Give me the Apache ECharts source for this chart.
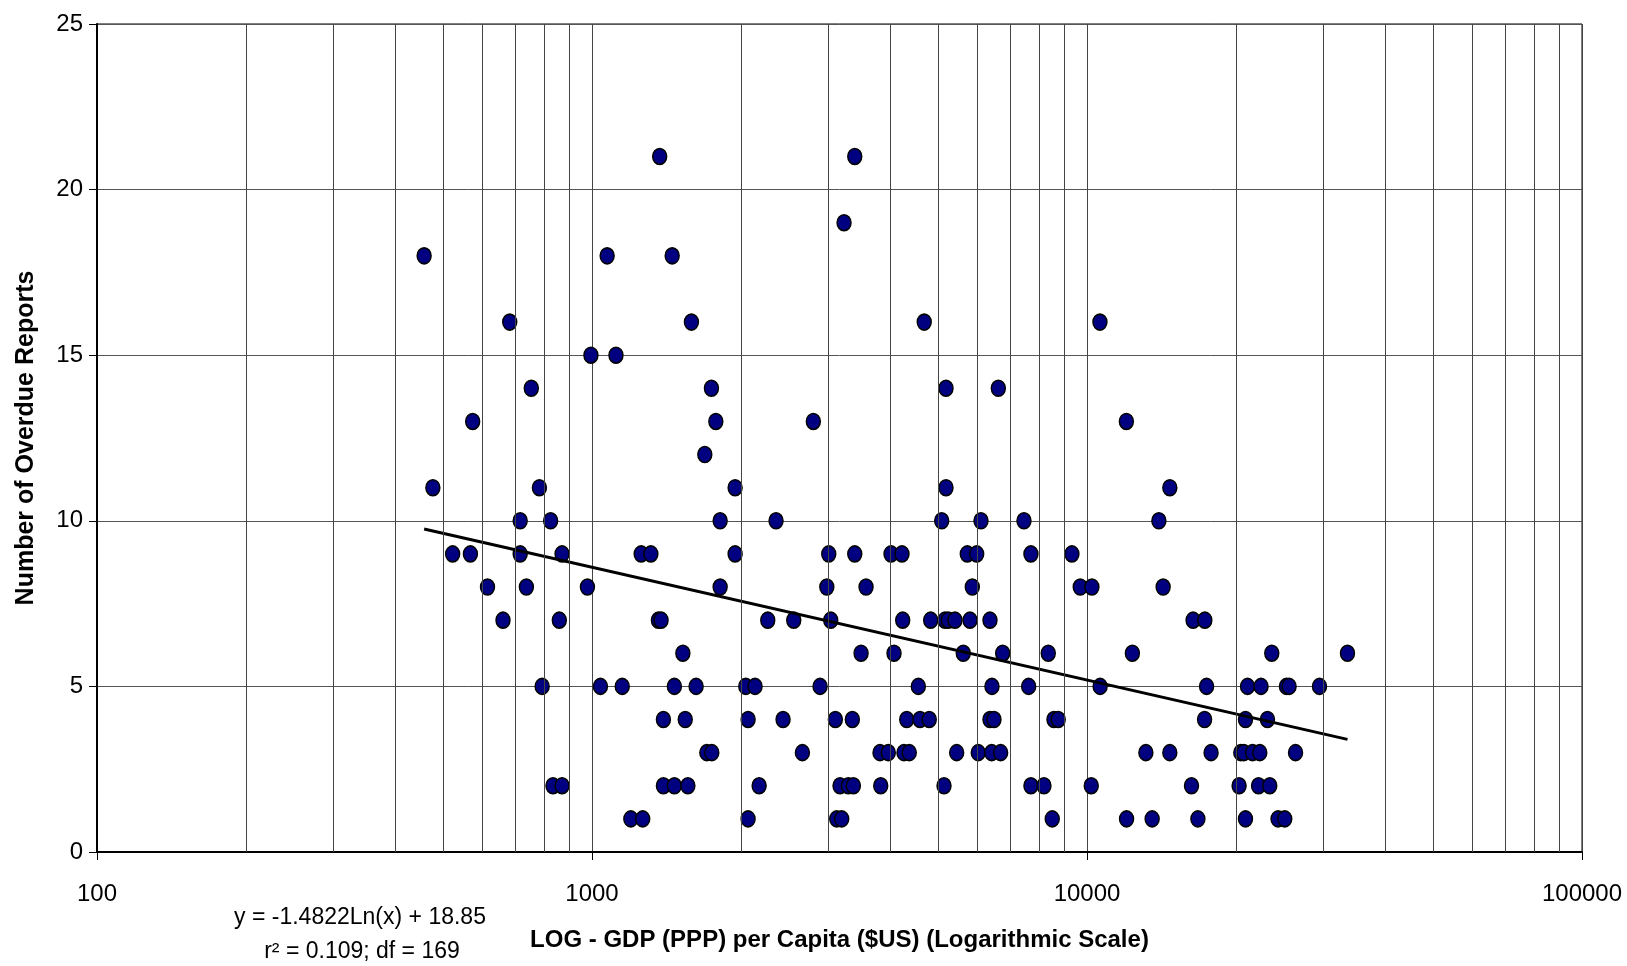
<!DOCTYPE html>
<html><head><meta charset="utf-8">
<script src="https://cdn.jsdelivr.net/npm/echarts@6/dist/echarts.min.js"></script>
<style>html,body{margin:0;padding:0;background:#fff}#c{width:1627px;height:966px}</style>
</head><body><div id="c"></div>
<script>
// GDP (PPP) per capita, $US, one entry per country
const gdpPerCapita = [
  1370, 3395,
  3230,
  458, 1073, 1452,
  682, 1588, 4690, 10620,
  995, 1118,
  754, 1743, 5190, 6620,
  574, 1779, 2800, 12010,
  1690,
  477, 783, 1946, 5190, 14700,
  716, 825, 1815, 2354, 5087, 6107, 7459, 13970,
  523, 568, 716, 870, 1257, 1315, 1946, 3008, 3395, 4019, 4229, 5730, 5986, 7704, 9322,
  615, 737, 979, 1815, 2981, 3578, 5865, 9690, 10230, 14250,
  661, 859, 1362, 1379, 2265, 2556, 3036, 4243, 4833, 5166, 5245, 5411, 5803, 6368, 16380, 17300,
  1526, 3496, 4075, 5624, 6755, 8351, 12350, 23620, 33590,
  793, 1040, 1151, 1467, 1623, 2045, 2135, 2889, 4563, 6427, 7623, 10630, 17440, 21100, 22470, 25290, 25600, 29490,
  1394, 1543, 2067, 2432, 3102, 3357, 4323, 4599, 4801, 6368, 6487, 8576, 8747, 17280, 20900, 23150,
  1706, 1746, 2661, 3818, 3968, 4268, 4375, 5454, 6030, 6419, 6692, 13150, 14700, 17810, 20450, 20740, 21600, 22340, 26380,
  834, 870, 1394, 1467, 1562, 2176, 3170, 3295, 3373, 3831, 5142, 7704, 8185, 10200, 16260, 20290, 22210, 23400,
  1198, 1266, 2067, 3122, 3195, 8507, 12020, 13540, 16750, 20900, 24320, 25090
];
// Number of overdue reports, same order as gdpPerCapita
const overdueReports = [
  21, 21,
  19,
  18, 18, 18,
  16, 16, 16, 16,
  15, 15,
  14, 14, 14, 14,
  13, 13, 13, 13,
  12,
  11, 11, 11, 11, 11,
  10, 10, 10, 10, 10, 10, 10, 10,
  9, 9, 9, 9, 9, 9, 9, 9, 9, 9, 9, 9, 9, 9, 9,
  8, 8, 8, 8, 8, 8, 8, 8, 8, 8,
  7, 7, 7, 7, 7, 7, 7, 7, 7, 7, 7, 7, 7, 7, 7, 7,
  6, 6, 6, 6, 6, 6, 6, 6, 6,
  5, 5, 5, 5, 5, 5, 5, 5, 5, 5, 5, 5, 5, 5, 5, 5, 5, 5,
  4, 4, 4, 4, 4, 4, 4, 4, 4, 4, 4, 4, 4, 4, 4, 4,
  3, 3, 3, 3, 3, 3, 3, 3, 3, 3, 3, 3, 3, 3, 3, 3, 3, 3, 3,
  2, 2, 2, 2, 2, 2, 2, 2, 2, 2, 2, 2, 2, 2, 2, 2, 2, 2,
  1, 1, 1, 1, 1, 1, 1, 1, 1, 1, 1, 1
];
// Logarithmic trend line end points
const trendGdp = [458, 33590];
const trendReports = [9.75, 3.40];
// Axis ticks
const xMajorTicks = [100, 1000, 10000, 100000];
const xMinorGrid = [200, 300, 400, 500, 600, 700, 800, 900,
                    2000, 3000, 4000, 5000, 6000, 7000, 8000, 9000,
                    20000, 30000, 40000, 50000, 60000, 70000, 80000, 90000];
const yMin = 0, yMax = 25, yStep = 5;
const equationText = 'y = -1.4822Ln(x) + 18.85';
const statsText = 'r\u00B2 = 0.109; df = 169';
const xTitle = 'LOG - GDP (PPP) per Capita ($US) (Logarithmic Scale)';
const yTitle = 'Number of Overdue Reports';

const FONT = '"Liberation Sans", Arial, sans-serif';
const chart = echarts.init(document.getElementById('c'), null, {renderer: 'canvas'});
const points = gdpPerCapita.map((g, i) => [g, overdueReports[i]]);
const trend = trendGdp.map((g, i) => [g, trendReports[i]]);

chart.setOption({
  animation: false,
  backgroundColor: '#fff',
  grid: {left: 97, right: 45, top: 24, bottom: 114, show: true, borderColor: '#000', borderWidth: 1,
         containLabel: false, outerBoundsMode: 'none'},
  xAxis: {
    type: 'log', logBase: 10, min: xMajorTicks[0], max: xMajorTicks[xMajorTicks.length - 1],
    name: xTitle, nameLocation: 'middle', nameGap: 76,
    nameTextStyle: {fontFamily: FONT, fontSize: 24, fontWeight: 'bold', color: '#000'},
    axisLine: {show: true, onZero: false, lineStyle: {color: '#000', width: 2}},
    axisTick: {show: true, length: 8, lineStyle: {color: '#000', width: 1}},
    axisLabel: {fontFamily: FONT, fontSize: 24, color: '#000', margin: 30,
      formatter: v => String(xMajorTicks.find(t => Math.abs(t - v) / t < 1e-6) || Math.round(v))},
    splitLine: {show: true, lineStyle: {color: '#444', width: 1}},
    minorTick: {show: false}, minorSplitLine: {show: false}
  },
  yAxis: {
    type: 'value', min: yMin, max: yMax, interval: yStep,
    name: yTitle, nameLocation: 'middle', nameGap: 58,
    nameTextStyle: {fontFamily: FONT, fontSize: 25, fontWeight: 'bold', color: '#000'},
    axisLine: {show: true, lineStyle: {color: '#000', width: 2}},
    axisTick: {show: true, length: 8, lineStyle: {color: '#000', width: 1}},
    axisLabel: {fontFamily: FONT, fontSize: 24, color: '#000', margin: 14},
    splitLine: {show: true, lineStyle: {color: '#555', width: 1}}
  },
  series: [
    {
      type: 'scatter', name: 'countries', data: points, z: 3,
      symbol: 'circle', symbolSize: [14, 16],
      itemStyle: {color: '#000080', borderColor: '#000', borderWidth: 1.5, opacity: 1},
      markLine: {
        silent: true, symbol: 'none', animation: false,
        label: {show: false},
        lineStyle: {color: '#444', width: 1, type: 'solid'},
        emphasis: {disabled: true},
        data: xMinorGrid.map(v => ({xAxis: v}))
      }
    },
    {
      type: 'line', name: 'trend', data: trend, z: 4,
      showSymbol: false, symbol: 'none',
      lineStyle: {color: '#000', width: 3}
    }
  ],
  graphic: [
    {type: 'text', x: 360, y: 918, z: 10,
     style: {text: equationText, font: '23px ' + FONT, fill: '#000', align: 'center', verticalAlign: 'middle'}},
    {type: 'text', x: 362, y: 952, z: 10,
     style: {text: statsText, font: '23px ' + FONT, fill: '#000', align: 'center', verticalAlign: 'middle'}}
  ]
});
</script>
</body></html>
